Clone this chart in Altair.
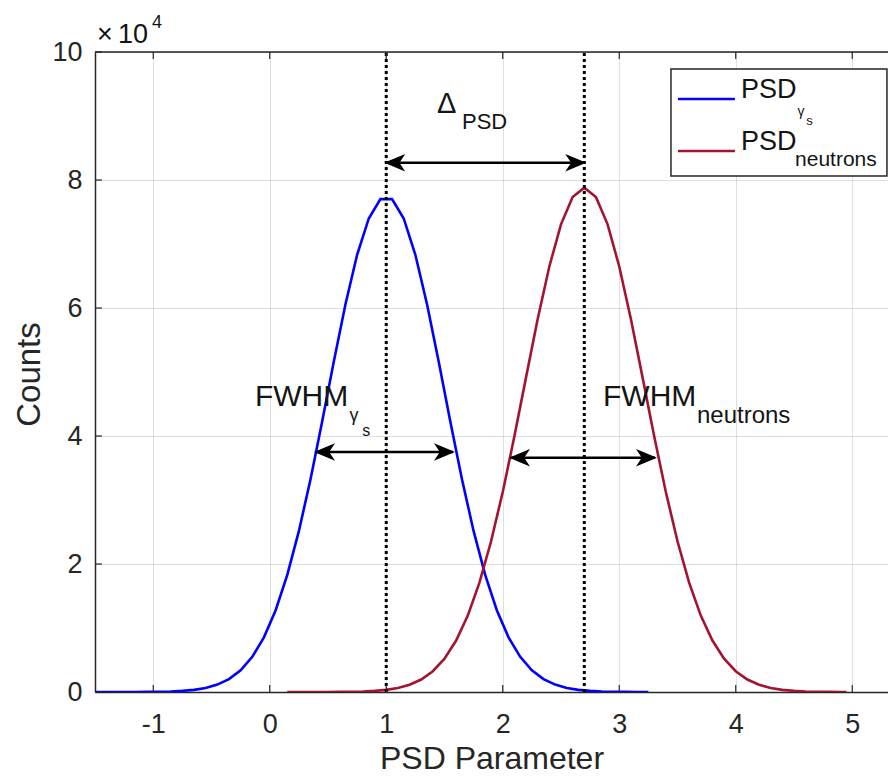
import altair as alt
import pandas as pd

# ---------------- data ----------------
BLUE_X = [-1.55, -1.45, -1.35, -1.25, -1.15, -1.05, -0.95, -0.85, -0.75, -0.65,
          -0.55, -0.45, -0.35, -0.25, -0.15, -0.05, 0.05, 0.15, 0.25, 0.35,
          0.45, 0.55, 0.65, 0.75, 0.85, 0.95, 1.05, 1.15, 1.25, 1.35,
          1.45, 1.55, 1.65, 1.75, 1.85, 1.95, 2.05, 2.15, 2.25, 2.35,
          2.45, 2.55, 2.65, 2.75, 2.85, 2.95, 3.05, 3.15, 3.25]
BLUE_Y = [0, 0, 1, 3, 7, 17, 39, 82, 169, 334,
          634, 1155, 2020, 3400, 5500, 8540, 12730, 18250, 25130, 33250,
          42270, 51630, 60580, 68310, 73990, 77010, 77010, 73990, 68310, 60580,
          51630, 42270, 33250, 25130, 18250, 12730, 8540, 5500, 3400, 2020,
          1155, 634, 334, 169, 82, 39, 17, 7, 3]

RED_X = [0.15, 0.2, 0.3, 0.4, 0.5, 0.6, 0.7, 0.8, 0.9, 1.0,
         1.1, 1.2, 1.3, 1.4, 1.5, 1.6, 1.7, 1.8, 1.9, 2.0,
         2.1, 2.2, 2.3, 2.4, 2.5, 2.6, 2.7, 2.8, 2.9, 3.0,
         3.1, 3.2, 3.3, 3.4, 3.5, 3.6, 3.7, 3.8, 3.9, 4.0,
         4.1, 4.2, 4.3, 4.4, 4.5, 4.6, 4.7, 4.8, 4.9, 4.95]
RED_Y = [0, 1, 2, 4, 9, 19, 42, 87, 174, 337,
         630, 1130, 1950, 3250, 5210, 8040, 11940, 17090, 23550, 31260,
         39950, 49160, 58270, 66490, 73070, 77330, 78800, 77330, 73070, 66490,
         58270, 49160, 39950, 31260, 23550, 17090, 11940, 8040, 5210, 3250,
         1950, 1130, 630, 337, 174, 87, 42, 19, 9, 6]

X_TICKS = [-1, 0, 1, 2, 3, 4, 5]
Y_TICKS = [0, 20000, 40000, 60000, 80000, 100000]
X_DOMAIN = [-1.5, 5.307]
Y_DOMAIN = [0, 100000]

PEAK_LINES = [1.0, 2.7]

ARROW_X1 = [1.0, 0.397, 2.071]
ARROW_X2 = [2.7, 1.573, 3.307]
ARROW_Y = [82700, 37500, 36600]

NOTE_TEXT = ["\u0394", "PSD", "FWHM", "\u03b3", "s", "FWHM", "neutrons",
             "\u00d7", "10", "4"]
NOTE_X = [1.436, 1.650, -0.127, 0.685, 0.795, 2.861, 3.667,
          -1.483, -1.303, -1.011]
NOTE_Y = [90470, 87970, 44690, 42340, 40000, 44690, 42030,
          101400, 101400, 103750]
NOTE_SIZE = [29, 22, 30, 18, 16, 30, 24, 27, 27, 18]

LEG_BOX = {"x": 3.444, "x2": 5.298, "y": 80630, "y2": 97340}
LEG_LINE_X = [3.504, 3.993]
LEG_LINE_Y = [92660, 84530]
LEG_COLORS = ["#0000ff", "#a2142f"]
LEG_TEXT = ["PSD", "\u03b3", "s", "PSD", "neutrons"]
LEG_TX = [4.045, 4.530, 4.605, 4.045, 4.509]
LEG_TY = [92810, 89990, 88590, 84690, 82190]
LEG_TSIZE = [27, 14, 13, 27, 21]

FONT = "Liberation Sans"
AX = "#262626"

W, H = 793, 640
xs = alt.Scale(domain=X_DOMAIN, nice=False, zero=False)
ys = alt.Scale(domain=Y_DOMAIN, nice=False, zero=False)

x_axis = alt.Axis(values=X_TICKS, ticks=False, labelFontSize=27, labelFont=FONT,
                  labelColor=AX, labelPadding=19,
                  labelExpr="datum.value < 0 ? '-' + abs(datum.value) : '' + datum.value",
                  title="PSD Parameter", titleFont=FONT, titleFontSize=32,
                  titleFontWeight="normal", titleColor=AX,
                  titleBaseline="alphabetic", titleY=76,
                  grid=True, gridColor=AX, gridOpacity=0.15, gridWidth=1,
                  domainColor=AX, domainWidth=1.5)
y_axis = alt.Axis(values=Y_TICKS, ticks=False, labelFontSize=27, labelFont=FONT,
                  labelColor=AX, labelPadding=13, labelExpr="datum.value / 10000",
                  title="Counts", titleFont=FONT, titleFontSize=33,
                  titleFontWeight="normal", titleColor=AX,
                  titleBaseline="alphabetic", titleX=-56, titleY=H / 2 + 2,
                  grid=True, gridColor=AX, gridOpacity=0.15, gridWidth=1,
                  domainColor=AX, domainWidth=1.5)


def X(field):
    return alt.X(field, scale=xs, axis=x_axis)


def Y(field):
    return alt.Y(field, scale=ys, axis=y_axis)


color_scale = alt.Scale(domain=["gamma", "neutron"], range=LEG_COLORS)

curves = pd.DataFrame(
    {"x": BLUE_X + RED_X,
     "y": BLUE_Y + RED_Y,
     "series": ["gamma"] * len(BLUE_X) + ["neutron"] * len(RED_X)}
)

lines = alt.Chart(curves).mark_line(strokeWidth=2.6, clip=True).encode(
    x=X("x:Q"), y=Y("y:Q"),
    color=alt.Color("series:N", scale=color_scale, legend=None),
    detail="series:N",
)

vlines_df = pd.DataFrame({"x": PEAK_LINES, "y": [Y_DOMAIN[0]] * 2, "y2": [Y_DOMAIN[1]] * 2})
vlines = alt.Chart(vlines_df).mark_rule(
    color="black", strokeWidth=3, strokeDash=[3, 3]
).encode(x=X("x:Q"), y=Y("y:Q"), y2="y2:Q")

arrows_df = pd.DataFrame({"x1": ARROW_X1, "x2": ARROW_X2, "y": ARROW_Y})
arrow_lines = alt.Chart(arrows_df).mark_rule(color="black", strokeWidth=2.5).encode(
    x=X("x1:Q"), x2="x2:Q", y=Y("y:Q"),
)
LEFT_HEAD = "M0,0L1,-0.42L0.72,0L1,0.42Z"
RIGHT_HEAD = "M0,0L-1,-0.42L-0.72,0L-1,0.42Z"
head_left = alt.Chart(arrows_df).mark_point(
    shape=LEFT_HEAD, filled=True, size=1156, color="black", opacity=1,
    stroke="black", strokeWidth=1.5
).encode(x=X("x1:Q"), y=Y("y:Q"))
head_right = alt.Chart(arrows_df).mark_point(
    shape=RIGHT_HEAD, filled=True, size=1156, color="black", opacity=1,
    stroke="black", strokeWidth=1.5
).encode(x=X("x2:Q"), y=Y("y:Q"))

notes_df = pd.DataFrame({"x": NOTE_X, "y": NOTE_Y, "t": NOTE_TEXT, "s": NOTE_SIZE})
notes = alt.Chart(notes_df).mark_text(
    align="left", baseline="alphabetic", font=FONT, color="#141414"
).encode(
    x=X("x:Q"), y=Y("y:Q"), text="t:N",
    size=alt.Size("s:Q", scale=None, legend=None),
)

# frame pieces: top border and inward tick marks
top_border = alt.Chart(pd.DataFrame({"v": [0]})).mark_rule(color=AX, strokeWidth=1.5).encode(
    x=alt.value(0), x2=alt.value(W), y=alt.value(0)
)
xt = pd.DataFrame({"x": X_TICKS})
ticks_bottom = alt.Chart(xt).mark_rule(color=AX, strokeWidth=1.2).encode(
    x=X("x:Q"), y=alt.value(H), y2=alt.value(H - 7)
)
ticks_top = alt.Chart(xt).mark_rule(color=AX, strokeWidth=1.2).encode(
    x=X("x:Q"), y=alt.value(0), y2=alt.value(7)
)
ticks_left = alt.Chart(pd.DataFrame({"y": Y_TICKS})).mark_rule(color=AX, strokeWidth=1.2).encode(
    y=Y("y:Q"), x=alt.value(0), x2=alt.value(7)
)

# legend drawn by hand (it needs subscripts)
leg_box = alt.Chart(pd.DataFrame([LEG_BOX])).mark_rect(
    fill="white", stroke=AX, strokeWidth=1.5
).encode(x=X("x:Q"), x2="x2:Q", y=Y("y:Q"), y2="y2:Q")
leg_lines_df = pd.DataFrame({
    "x": [LEG_LINE_X[0]] * 2, "x2": [LEG_LINE_X[1]] * 2,
    "y": LEG_LINE_Y, "series": ["gamma", "neutron"],
})
leg_lines = alt.Chart(leg_lines_df).mark_rule(strokeWidth=2.6).encode(
    x=X("x:Q"), x2="x2:Q", y=Y("y:Q"),
    color=alt.Color("series:N", scale=color_scale, legend=None),
)
leg_df = pd.DataFrame({"x": LEG_TX, "y": LEG_TY, "t": LEG_TEXT, "s": LEG_TSIZE})
leg_text = alt.Chart(leg_df).mark_text(
    align="left", baseline="alphabetic", font=FONT, color="#141414"
).encode(
    x=X("x:Q"), y=Y("y:Q"), text="t:N",
    size=alt.Size("s:Q", scale=None, legend=None),
)

chart = alt.layer(
    lines, vlines, arrow_lines, head_left, head_right, notes,
    top_border, ticks_bottom, ticks_top, ticks_left,
    leg_box, leg_lines, leg_text,
).properties(
    width=W, height=H,
    autosize=alt.AutoSizeParams(type="none"),
    padding={"left": 87, "top": 44, "right": 0, "bottom": 78},
).configure_view(stroke=None).configure(background="white")

chart.save("out.html", embed_options={"renderer": "svg", "actions": False})
